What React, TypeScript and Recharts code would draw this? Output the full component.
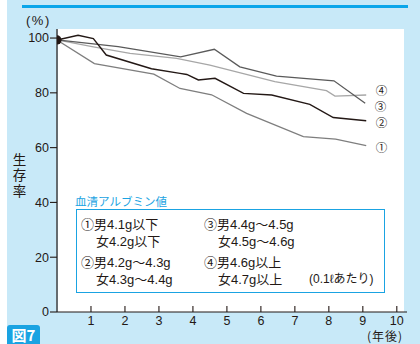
import React from "react";
import { LineChart, Line, XAxis, YAxis } from "recharts";

// 生存率(%)の推移 — 血清アルブミン値別
const YEARS_1 = [0, 1.1, 2.85, 3.62, 4.55, 5.58, 7.25, 8.2, 9.1];
const RATE_1 = [99.3, 90.7, 86.8, 81.6, 79.3, 72.5, 64.0, 63.1, 60.7];

const YEARS_2 = [0, 0.62, 1.07, 1.45, 2.78, 3.62, 3.82, 4.16, 4.65, 5.49, 6.32, 7.44, 8.13, 9.1];
const RATE_2 = [99.3, 101, 99.8, 93.8, 88.8, 87.1, 86.7, 84.7, 85.3, 79.8, 79.2, 75.8, 71.0, 69.8];

const YEARS_3 = [0, 1.8, 3.64, 4.63, 5.38, 6.46, 8.15, 9.07];
const RATE_3 = [99.3, 96.9, 93.1, 95.9, 89.5, 86.1, 84.4, 76.2];

const YEARS_4 = [0, 1.07, 2.15, 3.52, 4.5, 6.41, 7.93, 8.18, 9.1];
const RATE_4 = [99.3, 96.8, 94.4, 92.6, 90.1, 84.1, 80.8, 78.8, 79.2];

const X_TICKS = [1, 2, 3, 4, 5, 6, 7, 8, 9, 10];
const Y_TICKS = [0, 20, 40, 60, 80, 100];

const Y_LABEL = ["生", "存", "率"];

const LEGEND_ROWS = [
  ["①男4.1g以下", "女4.2g以下", "③男4.4g〜4.5g", "女4.5g〜4.6g"],
  ["②男4.2g〜4.3g", "女4.3g〜4.4g", "④男4.6g以上", "女4.7g以上"],
];

const toData = (xs: number[], ys: number[]) => xs.map((x, i) => ({ year: x, rate: ys[i] }));

const BG = "#c8e9f8";
const BLUE = "#1aa3e2";
const INK = "#231815";
const NUM_FONT = "'Liberation Sans', 'Noto Sans CJK JP', sans-serif";
const JP_FONT = "'Noto Sans CJK JP', sans-serif";

const XTick = (props: any) => {
  const { x, y, payload } = props;
  return (
    <g>
      <line x1={x} x2={x} y1={y} y2={y - 6} stroke={INK} strokeWidth={1.1} />
      <text x={x} y={y + 13} textAnchor="middle" fontSize={12.5} fontFamily={NUM_FONT} fill={INK}>
        {payload.value}
      </text>
    </g>
  );
};

const endLabel = (mark: string, last: number, dy: number) => (props: any) => {
  const { x, y, index } = props;
  if (index !== last) return null;
  return (
    <text x={x + 9.5} y={y + dy} dominantBaseline="central" fontSize={11.5} fontFamily={JP_FONT} fill={INK}>
      {mark}
    </text>
  );
};

const startDot = (props: any) => {
  const { cx, cy, index } = props;
  if (index !== 0) return <g key={`d-${index}`} />;
  return <circle key="d-0" cx={cx} cy={cy} r={4.6} fill={INK} />;
};

const abs = (s: React.CSSProperties): React.CSSProperties => ({ position: "absolute", ...s });

export default function App() {
  return (
    <div style={abs({ left: 0, top: 0, width: 420, height: 344, background: BG, overflow: "hidden" })}>
      <div style={abs({ left: 0, top: 0, width: 7, height: 344, background: "#fff" })} />
      <div style={abs({ left: 22, top: 5, width: 386, height: 2.5, background: "#0aa6ea" })} />
      <div style={abs({ left: 58, top: 29, width: 346, height: 283, background: "#fff" })} />

      <div style={abs({ left: 0, top: 0 })}>
        <LineChart width={420} height={344} margin={{ top: 29, right: 13, bottom: 0, left: 0 }}>
          <XAxis
            dataKey="year"
            type="number"
            domain={[0, 10.3]}
            ticks={X_TICKS}
            interval={0}
            tickSize={0}
            tickMargin={0}
            tickLine={false}
            tick={<XTick />}
            height={32}
            axisLine={{ stroke: INK, strokeWidth: 1.2 }}
            allowDataOverflow
          />
          <YAxis
            type="number"
            domain={[0, 103.3]}
            ticks={Y_TICKS}
            interval={0}
            width={57}
            tickSize={7}
            tickMargin={1}
            tick={{ fontSize: 12.5, fontFamily: NUM_FONT, fill: INK }}
            tickLine={{ stroke: INK, strokeWidth: 1.1 }}
            axisLine={{ stroke: INK, strokeWidth: 1.2 }}
            allowDataOverflow
          />
          <Line data={toData(YEARS_4, RATE_4)} dataKey="rate" stroke="#a7a7a7" strokeWidth={1.3} dot={false}
            isAnimationActive={false} label={endLabel("④", YEARS_4.length - 1, -5)} />
          <Line data={toData(YEARS_3, RATE_3)} dataKey="rate" stroke="#5a5a5a" strokeWidth={1.3} dot={false}
            isAnimationActive={false} label={endLabel("③", YEARS_3.length - 1, 2.5)} />
          <Line data={toData(YEARS_1, RATE_1)} dataKey="rate" stroke="#7e7e7e" strokeWidth={1.3} dot={false}
            isAnimationActive={false} label={endLabel("①", YEARS_1.length - 1, 1)} />
          <Line data={toData(YEARS_2, RATE_2)} dataKey="rate" stroke={INK} strokeWidth={1.4} dot={startDot}
            isAnimationActive={false} label={endLabel("②", YEARS_2.length - 1, 1)} />
        </LineChart>
      </div>

      <div style={abs({ left: 26, top: 13, fontSize: 13, fontFamily: NUM_FONT, color: INK, letterSpacing: 1.5, lineHeight: "16px" })}>
        (%)
      </div>
      {Y_LABEL.map((ch, i) => (
        <div key={ch} style={abs({ left: 12, top: 152 + i * 15.4, width: 15, height: 15, fontSize: 13.5, lineHeight: "15px", fontFamily: JP_FONT, color: INK, textAlign: "center" })}>
          {ch}
        </div>
      ))}
      <div style={abs({ left: 367, top: 329, fontSize: 12, fontFamily: JP_FONT, color: INK, letterSpacing: 1, lineHeight: "13px" })}>
        (年後)
      </div>

      <div style={abs({ left: 75, top: 193, fontSize: 11.5, fontFamily: JP_FONT, color: BLUE, lineHeight: "16px" })}>
        血清アルブミン値
      </div>
      <div style={abs({ left: 76, top: 209, width: 309, height: 84, border: `1.5px solid ${BLUE}`, boxSizing: "border-box" })} />
      {LEGEND_ROWS.map((row, r) => (
        <React.Fragment key={r}>
          {[0, 1].map((line) => (
            <React.Fragment key={line}>
              <div style={abs({ left: line === 0 ? 81 : 96, top: 217 + r * 38 + line * 17, fontSize: 13, fontFamily: NUM_FONT, color: INK, lineHeight: "16px", whiteSpace: "nowrap" })}>
                {row[line]}
              </div>
              <div style={abs({ left: line === 0 ? 204 : 218, top: 217 + r * 38 + line * 17, fontSize: 13, fontFamily: NUM_FONT, color: INK, lineHeight: "16px", whiteSpace: "nowrap" })}>
                {row[2 + line]}
              </div>
            </React.Fragment>
          ))}
        </React.Fragment>
      ))}
      <div style={abs({ left: 309, top: 271, fontSize: 12, fontFamily: NUM_FONT, color: INK, lineHeight: "16px", whiteSpace: "nowrap" })}>
        (0.1ℓあたり)
      </div>

      <div style={abs({ left: 7, top: 325, width: 33, height: 19, background: BLUE, borderRadius: "3px 3px 0 0", color: "#fff", fontFamily: JP_FONT, fontWeight: 700, fontSize: 15, lineHeight: "20px", textAlign: "center" })}>
        図7
      </div>
    </div>
  );
}
